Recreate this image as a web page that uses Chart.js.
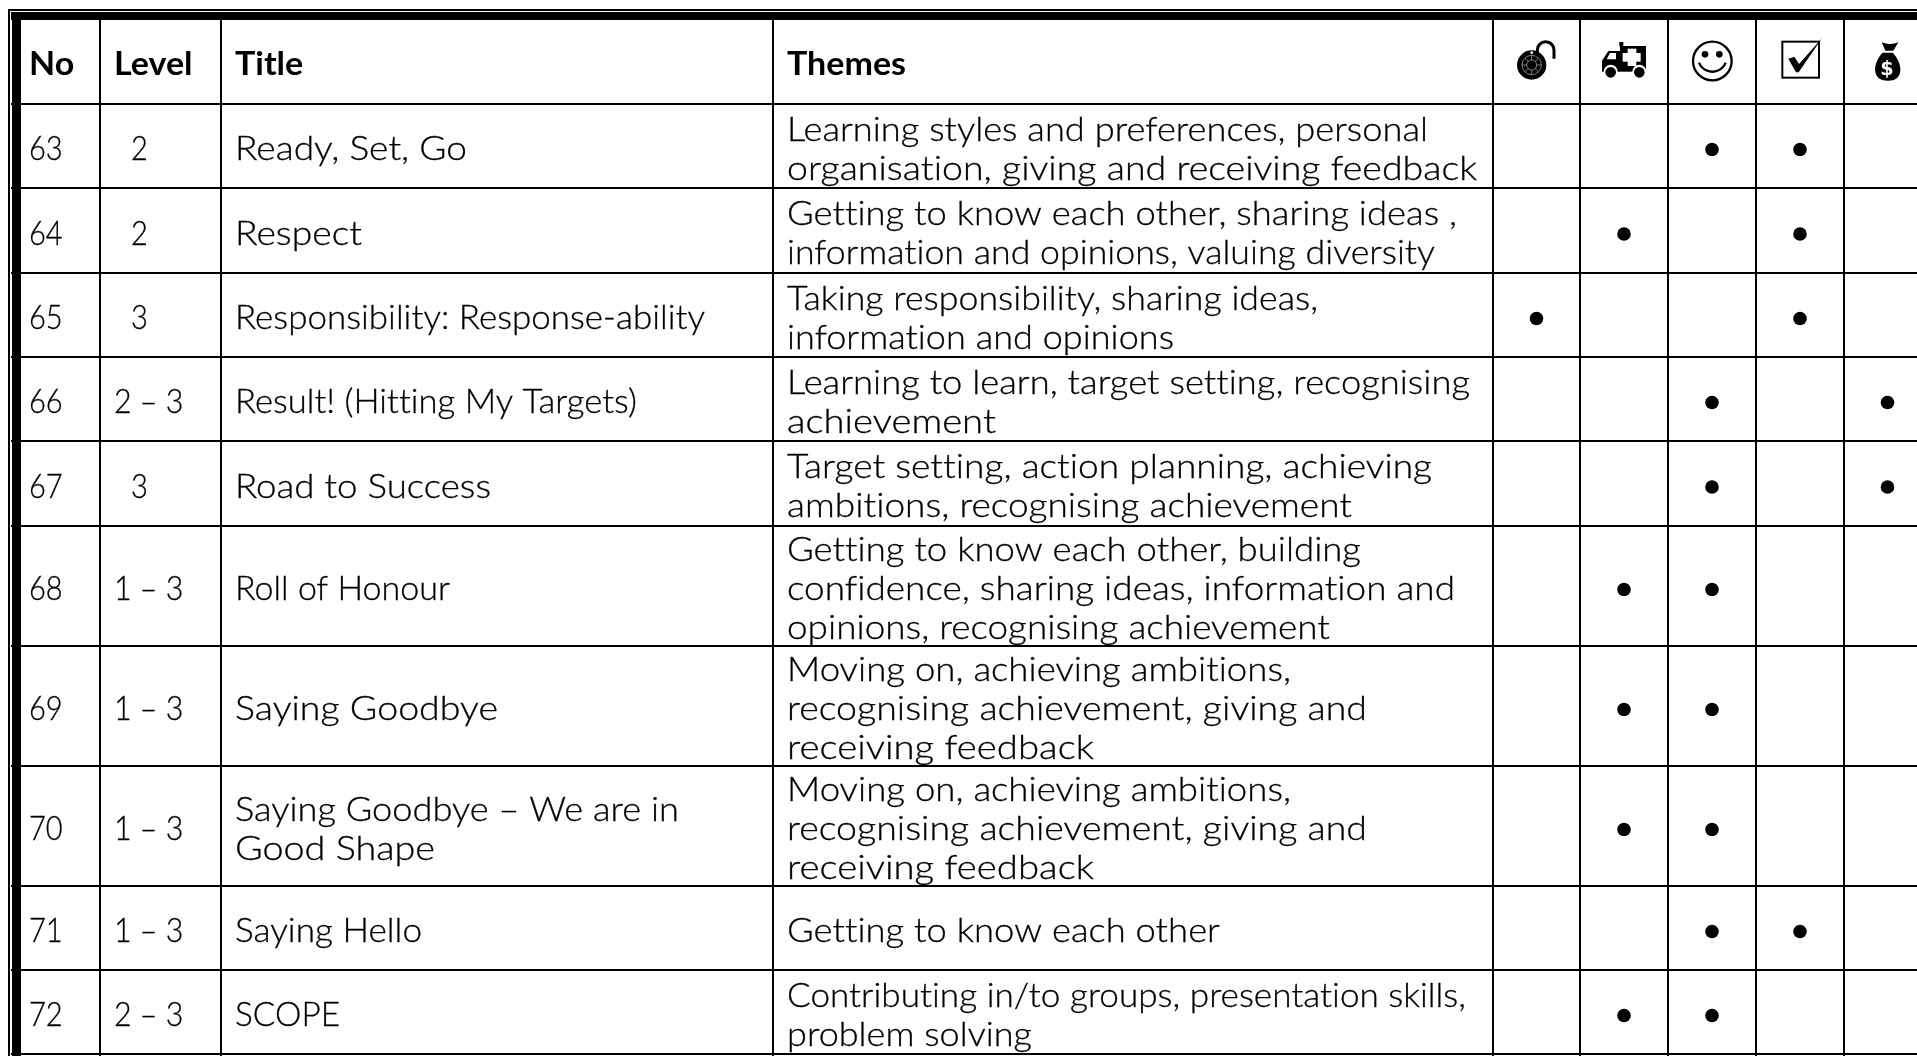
<!DOCTYPE html>
<html>
<head>
<meta charset="utf-8">
<title>Resources table</title>
<script src="https://cdn.jsdelivr.net/npm/chart.js@4/dist/chart.umd.min.js"></script>
<style>html,body{margin:0;padding:0;background:#fff;overflow:hidden}canvas{display:block}</style>
</head>
<body>
<canvas id="tableChart" width="1917" height="1056"></canvas>
<script>
const headers=['No','Level','Title','Themes'];
const numbers=['63','64','65','66','67','68','69','70','71','72'];
const levels=['2','2','3','2 – 3','3','1 – 3','1 – 3','1 – 3','1 – 3','2 – 3'];
const titles=[
['Ready, Set, Go'],['Respect'],['Responsibility: Response-ability'],['Result! (Hitting My Targets)'],['Road to Success'],
['Roll of Honour'],['Saying Goodbye'],['Saying Goodbye – We are in','Good Shape'],['Saying Hello'],['SCOPE']
];
const themes=[
['Learning styles and preferences, personal','organisation, giving and receiving feedback'],
['Getting to know each other, sharing ideas ,','information and opinions, valuing diversity'],
['Taking responsibility, sharing ideas,','information and opinions'],
['Learning to learn, target setting, recognising','achievement'],
['Target setting, action planning, achieving','ambitions, recognising achievement'],
['Getting to know each other, building','confidence, sharing ideas, information and','opinions, recognising achievement'],
['Moving on, achieving ambitions,','recognising achievement, giving and','receiving feedback'],
['Moving on, achieving ambitions,','recognising achievement, giving and','receiving feedback'],
['Getting to know each other'],
['Contributing in/to groups, presentation skills,','problem solving']
];
// one flag per row for the five icon columns
const lockFlags=[0,0,1,0,0,0,0,0,0,0];
const ambulanceFlags=[0,1,0,0,0,1,1,1,0,1];
const smileFlags=[1,0,0,1,1,1,1,1,1,1];
const checkFlags=[1,1,1,0,0,0,0,0,1,0];
const moneyFlags=[0,0,0,1,1,0,0,0,0,0];

// table layout, in canvas pixels
const colEdges=[16,100,221,773,1493,1580,1668,1756,1844];
const rowEdges=[16,104,188,273,357,441,526,646,766,886,970,1054];
const textX=[29,114,235,787];
const singleLevelX=131;
// where each line of text ends in the reference, same nesting as titles/themes
const titleEnds=[[467],[362],[705],[637],[491],[450],[498],[679,435],[422],[340]];
const themeEnds=[[1428,1477],[1457,1435],[1318,1174],[1470,996],[1432,1352],[1361,1455,1330],[1291,1367,1094],[1291,1367,1094],[1220],[1466,1032]];
const textFont='"Lato"';
const textSize=33;
const lineGap=39;
const digitStretch=0.88;
const levelStretch=0.92;
const headStretch=1.03;

const flagColumns=[lockFlags,ambulanceFlags,smileFlags,checkFlags,moneyFlags];
function colMid(i){return i<8?(colEdges[i]+colEdges[i+1])/2:(1844+1931)/2;}
function rowMid(i){return (rowEdges[i+1]+rowEdges[i+2])/2;}
const dotSets=flagColumns.map((flags,c)=>({
data:flags.map((f,r)=>f?{x:colMid(4+c),y:rowMid(r)+3.5}:null).filter(Boolean),
showLine:false,pointRadius:6.8,pointHoverRadius:6.8,backgroundColor:'#000',borderWidth:0
}));

// stretch is a factor, or null to fit the line up to endX
function putText(ctx,str,x,y,bold,stretch,endX){
ctx.save();
ctx.font=(bold?'bold ':'300 ')+textSize+'px '+textFont;
ctx.letterSpacing='0.01px'; // keeps Lato's ti/tt ligatures off
const k=stretch||(endX-x)/ctx.measureText(str).width;
ctx.translate(x,y);
ctx.scale(k,1);
ctx.fillText(str,0,0);
if(!bold){ctx.lineWidth=0.3;ctx.strokeText(str,0,0);}
ctx.restore();
}
function lineY(mid,i,n){return mid+14+(i-(n-1)/2)*lineGap;}

function drawLock(c){
c.beginPath();c.arc(155,195,44,0,Math.PI*2);c.fill();
c.lineWidth=9;c.beginPath();c.moveTo(172,160);c.lineTo(172,150);c.arc(197,150,25,Math.PI,0);c.lineTo(222,176);c.stroke();
c.strokeStyle='#bbb';c.lineWidth=2;
c.beginPath();c.arc(155,195,29,0,Math.PI*2);c.stroke();
c.beginPath();c.arc(155,195,15,0,Math.PI*2);c.stroke();
for(let a=0;a<8;a++){
const t=a*Math.PI/4;
c.beginPath();c.moveTo(155+15*Math.cos(t),195+15*Math.sin(t));c.lineTo(155+29*Math.cos(t),195+29*Math.sin(t));c.stroke();
}
c.fillStyle='#fff';c.beginPath();c.arc(155,158,4,0,Math.PI*2);c.fill();
}
function drawAmbulance(c){
c.fillRect(420,138,78,77);
c.fillRect(418,126,12,14);
c.beginPath();c.moveTo(420,153);c.lineTo(385,153);c.lineTo(366,182);c.lineTo(366,215);c.lineTo(420,215);c.fill();
c.fillStyle='#fff';
c.fillRect(443,146,26,52);c.fillRect(428,159,54,26);
c.beginPath();c.moveTo(408,159);c.lineTo(390,159);c.lineTo(380,178);c.lineTo(408,178);c.fill();
[392,478].forEach(x=>{
c.fillStyle='#fff';c.beginPath();c.arc(x,215,21,0,Math.PI*2);c.fill();
c.fillStyle='#000';c.beginPath();c.arc(x,217,16,0,Math.PI*2);c.fill();
});
}
function drawSmile(c){
c.lineWidth=7;c.beginPath();c.arc(697,183,58,0,Math.PI*2);c.stroke();
c.beginPath();c.arc(675,163,10,0,Math.PI*2);c.fill();
c.beginPath();c.arc(718,163,10,0,Math.PI*2);c.fill();
c.lineWidth=7;c.beginPath();c.arc(697,172,43,Math.PI*0.12,Math.PI*0.88);c.stroke();
}
function drawCheck(c){
c.lineWidth=6;c.strokeRect(907,125,110,108);
c.beginPath();c.moveTo(925,176);c.lineTo(943,170);c.lineTo(957,192);c.lineTo(1026,115);c.lineTo(956,217);c.lineTo(948,217);c.closePath();c.fill();
}
function drawMoney(c){
c.beginPath();c.moveTo(1205,127);c.quadraticCurveTo(1230,137,1255,127);c.lineTo(1240,152);c.lineTo(1216,152);c.fill();
c.beginPath();c.moveTo(1208,158);c.lineTo(1238,158);c.bezierCurveTo(1266,185,1276,242,1224,242);c.bezierCurveTo(1170,242,1180,185,1208,158);c.fill();
c.fillStyle='#fff';c.font='bold 58px "DejaVu Sans"';c.textAlign='center';c.fillText('$',1221,226);
}

const tablePlugin={
id:'tablePlugin',
beforeDraw(chart){
const c=chart.ctx;
c.save();
// thin outer rule of the double frame
c.fillStyle='#000';
c.fillRect(8,9,2,1047);
c.fillRect(8,9,1909,2);
c.restore();
},
afterDraw(chart){
const c=chart.ctx;
c.save();
c.fillStyle='#000';c.strokeStyle='#000';c.textAlign='left';c.textBaseline='alphabetic';
headers.forEach((h,i)=>putText(c,h,textX[i],75,true,headStretch));
numbers.forEach((n,r)=>{
const mid=rowMid(r);
putText(c,n,textX[0],lineY(mid,0,1),false,digitStretch);
const single=levels[r].length===1;
putText(c,levels[r],single?singleLevelX:textX[1],lineY(mid,0,1),false,single?digitStretch:levelStretch);
titles[r].forEach((l,i)=>putText(c,l,textX[2],lineY(mid,i,titles[r].length),false,null,titleEnds[r][i]));
themes[r].forEach((l,i)=>putText(c,l,textX[3],lineY(mid,i,themes[r].length),false,null,themeEnds[r][i]));
});
c.restore();
// header icons, traced at 3x
[drawLock,drawAmbulance,drawSmile,drawCheck,drawMoney].forEach(fn=>{
c.save();
c.translate(1480,0);c.scale(1/3,1/3);
c.fillStyle='#000';c.strokeStyle='#000';
fn(c);
c.restore();
});
}
};

function edgeScale(edges,min,max,reverse,thick){
return {
type:'linear',min,max,reverse,
display:true,
afterBuildTicks(s){s.ticks=edges.map(v=>({value:v}));},
ticks:{display:false,autoSkip:false},
border:{display:false},
grid:{drawTicks:false,color:'#000',lineWidth:ctx=>ctx.index===0?thick:2}
};
}

new Chart(document.getElementById('tableChart'),{
type:'scatter',
data:{datasets:dotSets},
options:{
responsive:false,animation:false,
layout:{autoPadding:false,padding:{left:11,top:12,right:0,bottom:0}},
plugins:{legend:{display:false},tooltip:{enabled:false}},
scales:{
x:edgeScale(colEdges,11,1917,false,9),
y:edgeScale(rowEdges,12,1056,true,8)
}
},
plugins:[tablePlugin]
});
</script>
</body>
</html>
